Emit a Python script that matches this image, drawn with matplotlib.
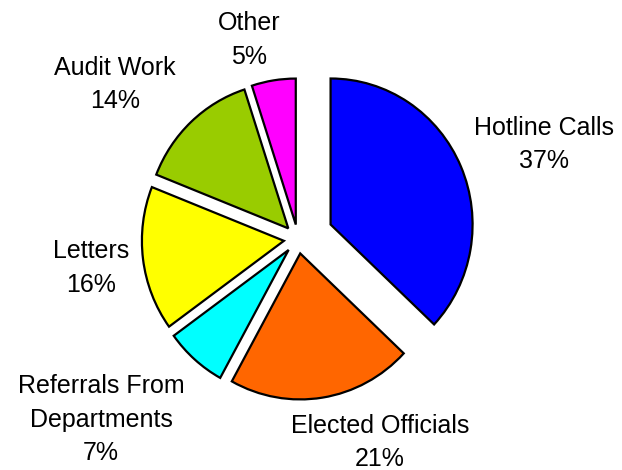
import matplotlib
matplotlib.use("Agg")
import matplotlib.pyplot as plt

# slice data, clockwise from 12 o'clock
categories = ["Hotline Calls", "Elected Officials", "Referrals From\nDepartments",
              "Letters", "Audit Work", "Other"]
shares = [37, 21, 7, 16, 14, 5]
colors = ["#0000FF", "#FF6600", "#00FFFF", "#FFFF00", "#99CC00", "#FF00FF"]
explode = [0.25, 0.1, 0.1, 0.1, 0.1, 0.1]

W, H = 622, 470
cx, cy = 298, 239      # pie centre in pixels (from top-left)
rx, ry = 142, 146      # radius in pixels (slightly taller than wide)

# label anchors: horizontal centre, top of first line (pixels from top-left)
label_px = [(544, 116), (380, 414), (101, 374), (91, 239), (115, 56), (249, 11)]

fig = plt.figure(figsize=(W / 100, H / 100), dpi=100)
ax = fig.add_axes([0, 0, 1, 1])
ax.pie(shares, colors=colors, explode=explode, startangle=90, counterclock=False,
       wedgeprops=dict(edgecolor="black", linewidth=1.6))
ax.set_aspect("auto")
ax.set_xlim(-cx / rx, (W - cx) / rx)
ax.set_ylim(-(H - cy) / ry, cy / ry)
ax.axis("off")

for name, pct, (px, py) in zip(categories, shares, label_px):
    fig.text(px / W, 1 - py / H, f"{name}\n{pct}%", ha="center", va="top",
             fontsize=18, family="Liberation Sans", linespacing=1.5)

fig.savefig("out.png", dpi=100)
